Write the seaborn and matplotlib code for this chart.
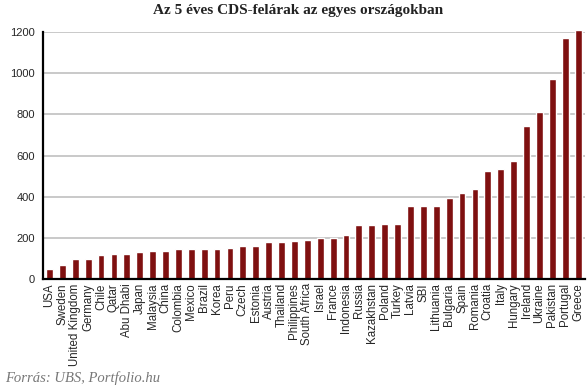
import matplotlib
matplotlib.use('Agg')
import matplotlib.pyplot as plt
import seaborn as sns
import pandas as pd
import numpy as np

# --- Adatok ---
countries = ['USA', 'Sweden', 'United Kingdom', 'Germany', 'Chile', 'Qatar', 'Abu Dhabi',
             'Japan', 'Malaysia', 'China', 'Colombia', 'Mexico', 'Brazil', 'Korea', 'Peru',
             'Czech', 'Estonia', 'Austria', 'Thailand', 'Philippines', 'South Africa', 'Israel',
             'France', 'Indonesia', 'Russia', 'Kazakhstan', 'Poland', 'Turkey', 'Latvia', 'SBI',
             'Lithuania', 'Bulgaria', 'Spain', 'Romania', 'Croatia', 'Italy', 'Hungary',
             'Ireland', 'Ukraine', 'Pakistan', 'Portugal', 'Greece']
spreads = [49, 70, 96, 96, 117, 121, 121, 130, 136, 136, 146, 146, 146, 146, 151,
           162, 162, 181, 181, 186, 190, 199, 201, 214, 261, 261, 267, 267, 353, 353,
           353, 392, 418, 437, 523, 534, 573, 743, 811, 972, 1171, 1213]
y_ticks = [0, 200, 400, 600, 800, 1000, 1200]

df = pd.DataFrame({'country': countries, 'cds': spreads})

sns.set_style('white')
fig = plt.figure(figsize=(5.87, 3.92), dpi=100)
ax = fig.add_axes([0.0733, 0.2883, 0.9225, 0.6295])

sns.barplot(data=df, x='country', y='cds', color='#7f1010', saturation=1,
            width=0.53, ax=ax, zorder=3)
for p in ax.patches:
    p.set_clip_on(False)

ax.set_ylim(0, 1200)
ax.set_xlim(-0.5, len(countries) - 0.5)
ax.set_yticks(y_ticks)
ax.yaxis.grid(True, color='#c0c0c0', linewidth=1.2, zorder=0)
ax.set_axisbelow(True)

for s in ['top', 'right']:
    ax.spines[s].set_visible(False)
for s in ['left', 'bottom']:
    ax.spines[s].set_color('black')
    ax.spines[s].set_linewidth(1.6)
    ax.spines[s].set_zorder(4)

ax.set_xlabel('')
ax.set_ylabel('')

# X tengely: feliratok elforgatva, osztásjelek a kategóriák között
ax.set_xticks(range(len(countries)))
ax.set_xticklabels(countries, rotation=90, fontsize=8.3, family='Liberation Sans',
                   va='top', ha='center')
ax.tick_params(axis='x', which='major', length=0, pad=3)
ax.set_xticks(np.arange(-0.5, len(countries), 1), minor=True)
ax.tick_params(axis='x', which='minor', length=4, width=1.2, color='black', direction='out')
ax.tick_params(axis='y', length=4, width=1.6, color='black', direction='out', pad=2)
for lab in ax.get_yticklabels():
    lab.set_fontsize(8)
    lab.set_family('Liberation Sans')

fig.text(0.508, 0.99, 'Az 5 éves CDS-felárak az egyes országokban', ha='center', va='top',
         fontsize=11, fontweight='bold', family='Liberation Serif', color='#222222')
fig.text(0.008, 0.036, 'Forrás: UBS, Portfolio.hu', ha='left', va='center',
         fontsize=10.5, style='italic', family='Liberation Serif', color='#777777')

fig.savefig('out.png', dpi=100)
